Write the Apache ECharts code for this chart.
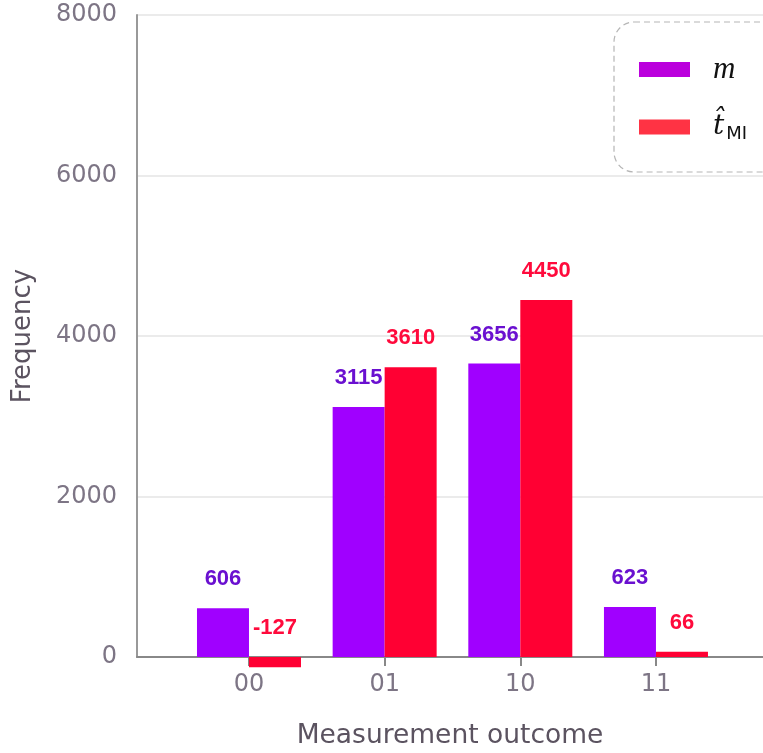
<!DOCTYPE html>
<html>
<head>
<meta charset="utf-8">
<script src="https://cdn.jsdelivr.net/npm/echarts@6/dist/echarts.min.js"></script>
<style>html,body{margin:0;padding:0;background:#fff;}#c{width:763px;height:753px;}</style>
</head>
<body>
<div id="c"></div>
<script>
const categories = ['00', '01', '10', '11'];
const catPositions = [0, 1, 2, 3];
const mValues = [606, 3115, 3656, 623];
const tValues = [-127, 3610, 4450, 66];

const chart = echarts.init(document.getElementById('c'));
const font = 'DejaVu Sans';
const labelStyle = (color) => ({
  show: true, position: 'top', distance: 18,
  color: color, fontFamily: 'Liberation Sans', fontWeight: 'bold', fontSize: 22
});
chart.setOption({
  animation: false,
  grid: { left: 137, right: 0, top: 15, bottom: 96, outerBoundsMode: 'none', containLabel: false },
  legend: {
    orient: 'vertical', left: 614, top: 22,
    padding: [32, 90, 29, 25],
    itemWidth: 51, itemHeight: 15, itemGap: 28,
    borderColor: '#b5b5b5', borderWidth: 1.2, borderType: [6, 4], borderRadius: 20,
    icon: 'rect',
    data: [
      { name: 'm', itemStyle: { color: '#bb00dd' } },
      { name: 't', itemStyle: { color: '#ff3344' } }
    ],
    formatter: function (name) {
      if (name === 'm') return '{m|m}';
      return '{t|t\u0302}{s|MI}';
    },
    textStyle: {
      color: '#111',
      rich: {
        m: { fontFamily: 'Liberation Serif', fontStyle: 'italic', fontSize: 31, padding: [0, 0, 0, 18] },
        t: { fontFamily: 'DejaVu Serif', fontStyle: 'italic', fontSize: 28, padding: [0, 0, 0, 18] },
        s: { fontFamily: font, fontSize: 18, padding: [14, 0, 0, 2] }
      }
    }
  },
  xAxis: {
    type: 'value', min: -0.8255, max: 3.789,
    name: 'Measurement outcome', nameLocation: 'middle', nameGap: 66,
    nameTextStyle: { fontFamily: font, fontSize: 26.5, color: '#5b5360' },
    axisLine: { show: true, onZero: false, lineStyle: { color: '#888', width: 2 } },
    axisTick: { show: true, customValues: catPositions, length: 9, lineStyle: { color: '#888', width: 2 } },
    axisLabel: {
      customValues: catPositions, margin: 16,
      formatter: (v) => categories[Math.round(v)],
      fontFamily: font, fontSize: 24, color: '#7d7585'
    },
    splitLine: { show: false }
  },
  yAxis: {
    type: 'value', min: 0, max: 8000, interval: 2000,
    name: 'Frequency', nameLocation: 'middle', nameGap: 101,
    nameTextStyle: { fontFamily: font, fontSize: 26, color: '#5b5360' },
    axisLine: { show: true, onZero: false, lineStyle: { color: '#999', width: 2 } },
    axisTick: { show: false },
    axisLabel: { margin: 20, fontFamily: font, fontSize: 24, color: '#7d7585', formatter: (v) => String(v) },
    splitLine: { show: true, lineStyle: { color: '#e4e4e4', width: 1.5 } }
  },
  series: [
    {
      name: 'm', type: 'bar', clip: false,
      barWidth: 52, barGap: '0%',
      itemStyle: { color: '#a000ff' },
      label: labelStyle('#6a10d0'),
      data: catPositions.map((p, i) => [p, mValues[i]])
    },
    {
      name: 't', type: 'bar', clip: false,
      barWidth: 52, barGap: '0%',
      itemStyle: { color: '#ff0033' },
      label: labelStyle('#ff0a3c'),
      data: catPositions.map((p, i) => [p, tValues[i]])
    }
  ]
});
</script>
</body>
</html>
